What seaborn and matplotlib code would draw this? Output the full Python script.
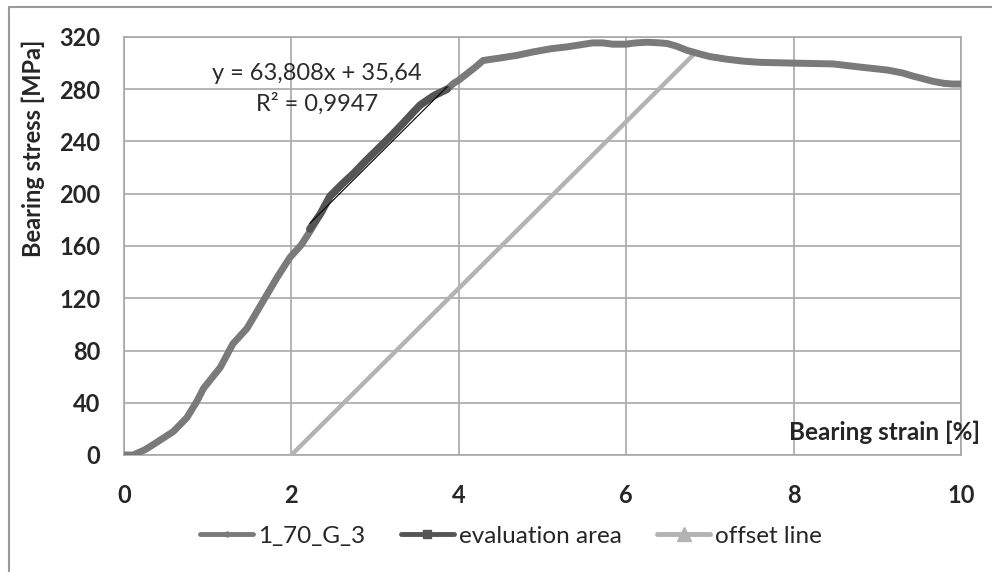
import matplotlib
matplotlib.use("Agg")
import matplotlib.pyplot as plt
from matplotlib.lines import Line2D
import seaborn as sns
import pandas as pd

# ---- data ----
strain_main = [0.0, 0.11, 0.25, 0.35, 0.47, 0.59, 0.75, 0.87, 0.95, 1.05, 1.15, 1.30,
               1.47, 1.59, 1.71, 1.83, 1.98, 2.12, 2.22, 2.35, 2.46, 2.6, 2.75, 2.9,
               3.06, 3.2, 3.35, 3.45, 3.54, 3.7, 3.86, 3.94, 4.0, 4.1, 4.2, 4.29,
               4.5, 4.7, 4.89, 5.1, 5.3, 5.45, 5.6, 5.72, 5.84, 6.0, 6.1, 6.25,
               6.4, 6.49, 6.6, 6.73, 6.88, 7.0, 7.2, 7.4, 7.6, 8.0, 8.47, 8.79,
               9.12, 9.3, 9.43, 9.55, 9.67, 9.8, 9.9, 10.0]
stress_main = [0.0, 0.0, 4, 8, 13, 18, 28.5, 41, 51, 59, 67, 85,
               97, 110, 123, 136, 151, 161, 171, 185, 198, 207, 216, 226,
               236, 245, 255, 262, 268, 275, 280, 284.6, 287, 292, 297, 302,
               304, 306, 308.6, 311, 312.5, 314, 315.5, 315.5, 314.5, 314.5, 315.4, 316,
               315.5, 315, 313, 309.7, 307, 305, 303, 301.5, 300.6, 300, 299.4, 297,
               294.7, 292.5, 290, 288, 286, 284.5, 284, 284]

strain_eval = [2.22, 2.35, 2.46, 2.6, 2.75, 2.9, 3.06, 3.2, 3.35, 3.45, 3.54, 3.7, 3.86]
stress_eval = [173, 185, 198, 207, 216, 226, 236, 245, 255, 262, 268, 275, 280]

trend_x = [2.22, 3.86]
trend_y = [177.3, 281.9]

strain_offset = [2.0, 6.82]
stress_offset = [0.0, 307.5]

x_ticks = [0, 2, 4, 6, 8, 10]
y_ticks = [0, 40, 80, 120, 160, 200, 240, 280, 320]

series_names = ["1_70_G_3", "evaluation area", "offset line"]
equation_text = "y = 63,808x + 35,64"
r2_text = "R² = 0,9947"

# ---- style ----
sns.set_style("white")
plt.rcParams["font.family"] = ["Lato", "DejaVu Sans"]

c_main = "#7a7a7a"
c_eval = "#555555"
c_off = "#b3b3b3"
c_grid = "#a8a8a8"

fig = plt.figure(figsize=(9.92, 5.72), dpi=100)
ax = fig.add_axes([124 / 992, 1 - 455 / 572, (961 - 124) / 992, (455 - 37) / 572])

df_main = pd.DataFrame({"strain": strain_main, "stress": stress_main})
df_eval = pd.DataFrame({"strain": strain_eval, "stress": stress_eval})
df_trend = pd.DataFrame({"strain": trend_x, "stress": trend_y})
df_off = pd.DataFrame({"strain": strain_offset, "stress": stress_offset})

sns.lineplot(data=df_off, x="strain", y="stress", ax=ax, color=c_off, lw=3.2,
             sort=False, estimator=None, zorder=3)
sns.lineplot(data=df_main, x="strain", y="stress", ax=ax, color=c_main, lw=5.0,
             sort=False, estimator=None, zorder=4)
sns.lineplot(data=df_eval, x="strain", y="stress", ax=ax, color=c_eval, lw=5.4,
             sort=False, estimator=None, zorder=5)
sns.lineplot(data=df_trend, x="strain", y="stress", ax=ax, color="black", lw=0.8,
             sort=False, estimator=None, zorder=6)

ax.set_xlim(0, 10)
ax.set_ylim(0, 320)
ax.set_xticks(x_ticks)
ax.set_yticks(y_ticks)
ax.set_xticklabels([str(t) for t in x_ticks])
ax.set_yticklabels([str(t) for t in y_ticks])
ax.grid(True, color=c_grid, lw=1.2)
ax.set_axisbelow(True)
for s in ax.spines.values():
    s.set_color(c_grid)
    s.set_linewidth(1.2)
ax.tick_params(axis="both", length=0, labelsize=17)
ax.tick_params(axis="y", pad=17)
ax.tick_params(axis="x", pad=21)
for lab in ax.get_xticklabels() + ax.get_yticklabels():
    lab.set_fontweight("bold")
ax.set_xlabel("")
ax.set_ylabel("")

fig.text(33 / 992, 1 - 148 / 572, "Bearing stress [MPa]", rotation=90, ha="center",
         va="center", fontsize=17, fontweight="bold")
fig.text(980 / 992, 1 - 432 / 572, "Bearing strain [%]", ha="right", va="center",
         fontsize=17.5, fontweight="bold")

fig.text(317 / 992, 1 - 74 / 572, equation_text, ha="center", va="center", fontsize=17,
         color="#2a2a2a")
fig.text(317 / 992, 1 - 104 / 572, r2_text, ha="center", va="center", fontsize=17,
         color="#2a2a2a")

handles = [
    Line2D([], [], color=c_main, lw=3.5, marker="|", markersize=5, markeredgewidth=2),
    Line2D([], [], color=c_eval, lw=3.5, marker="s", markersize=6),
    Line2D([], [], color=c_off, lw=3.5, marker="^", markersize=10),
]
fig.legend(handles, series_names, loc="center", bbox_to_anchor=(511 / 992, 1 - 536 / 572),
           ncol=3, frameon=False, fontsize=17.5, handlelength=2.2, handletextpad=0.2,
           columnspacing=1.45)

# outer chart border (left and top visible)
fig.add_artist(Line2D([8.5 / 992, 8.5 / 992], [0, 1 - 7 / 572], transform=fig.transFigure,
                      color="#9a9a9a", lw=1.5))
fig.add_artist(Line2D([8.5 / 992, 1], [1 - 7 / 572, 1 - 7 / 572], transform=fig.transFigure,
                      color="#9a9a9a", lw=1.5))

fig.savefig("out.png", dpi=100)
